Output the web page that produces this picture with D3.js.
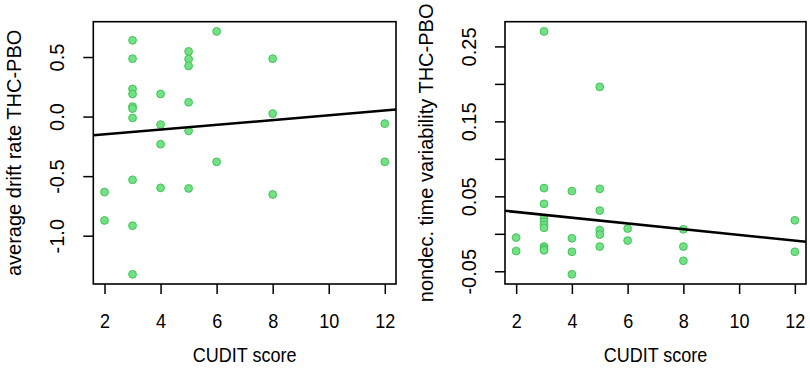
<!DOCTYPE html>
<html>
<head>
<meta charset="utf-8">
<script src="https://cdn.jsdelivr.net/npm/d3@7"></script>
<style>
  body { margin: 0; background: #fff; }
  svg { display: block; }
  text { font-family: "Liberation Sans", Arial, sans-serif; fill: #000; }
</style>
</head>
<body>
<script>
// CUDIT score per subject, sorted
var cudit = [2, 2,
  3, 3, 3, 3, 3, 3, 3, 3, 3, 3,
  4, 4, 4, 4,
  5, 5, 5, 5, 5, 5,
  6, 6,
  8, 8, 8,
  12, 12];

var driftRate = [-0.634, -0.872,
  0.640, 0.486, 0.232, 0.190, 0.084, 0.067, -0.011, -0.531, -0.916, -1.324,
  0.190, -0.067, -0.232, -0.598,
  0.547, 0.483, 0.425, 0.120, -0.120, -0.603,
  0.715, -0.380,
  0.486, 0.025, -0.654,
  -0.059, -0.380];

var nondecVar = [-0.005, -0.023,
  0.270, 0.061, 0.040, 0.020, 0.016, 0.012, 0.008, -0.017, -0.020, -0.022,
  0.057, -0.006, -0.024, -0.054,
  0.196, 0.060, 0.031, 0.005, -0.001, -0.017,
  0.007, -0.009,
  0.006, -0.017, -0.036,
  0.018, -0.024];

var xTicks = [2, 4, 6, 8, 10, 12];
var driftTicks = [-1.0, -0.5, 0.0, 0.5];
var nondecTicks = [-0.05, 0.00, 0.05, 0.10, 0.15, 0.20, 0.25];
var nondecLabelled = [-0.05, 0.05, 0.15, 0.25];

var xLabel = "CUDIT score";
var driftLabel = "average drift rate THC-PBO";
var nondecLabel = "nondec. time variability THC-PBO";

var W = 810, H = 379;
var plotTop = 21.7, plotBottom = 284;
var squeeze = "scale(0.9,1)"; // horizontal text in the source is narrow

var svg = d3.select("body").append("svg")
  .attr("width", W)
  .attr("height", H);

svg.append("rect").attr("width", W).attr("height", H).attr("fill", "#fff");

// R-style padded domain (4% each side)
function rExtent(vals) {
  var e = d3.extent(vals), pad = (e[1] - e[0]) * 0.04;
  return [e[0] - pad, e[1] + pad];
}

function fitLine(xs, ys) {
  var mx = d3.mean(xs), my = d3.mean(ys), sxy = 0, sxx = 0;
  for (var i = 0; i < xs.length; i++) {
    sxy += (xs[i] - mx) * (ys[i] - my);
    sxx += (xs[i] - mx) * (xs[i] - mx);
  }
  var b = sxy / sxx;
  return { a: my - b * mx, b: b };
}

function hyphen(f) {
  return function(d) { return f(d).replace("\u2212", "-"); };
}

function drawPanel(id, left, right, ys, yTicks, yFmt, yTitle) {
  var x = d3.scaleLinear().domain(rExtent(cudit)).range([left, right]);
  var y = d3.scaleLinear().domain(rExtent(ys)).range([plotBottom, plotTop]);

  var g = svg.append("g");

  g.append("clipPath").attr("id", id)
    .append("rect")
    .attr("x", left).attr("y", plotTop)
    .attr("width", right - left).attr("height", plotBottom - plotTop);

  // x axis
  var xa = g.append("g")
    .attr("transform", "translate(0," + plotBottom + ")")
    .call(d3.axisBottom(x).tickValues(xTicks).tickSize(10).tickSizeOuter(0));
  xa.select(".domain").remove();
  xa.selectAll(".tick line").attr("stroke", "#000").attr("stroke-width", 1.5);
  xa.selectAll(".tick text")
    .attr("y", 0).attr("dy", 0)
    .attr("transform", "translate(0,44) " + squeeze)
    .style("font-size", "20px");

  // y axis, labels parallel to axis
  var ya = g.append("g")
    .attr("transform", "translate(" + left + ",0)")
    .call(d3.axisLeft(y).tickValues(yTicks).tickFormat(yFmt).tickSize(10).tickSizeOuter(0));
  ya.select(".domain").remove();
  ya.selectAll(".tick line").attr("stroke", "#000").attr("stroke-width", 1.5);
  ya.selectAll(".tick text")
    .attr("transform", "rotate(-90)")
    .attr("x", 0).attr("y", -29).attr("dy", 0)
    .attr("text-anchor", "middle")
    .style("font-size", "20px");

  // box
  g.append("rect")
    .attr("x", left).attr("y", plotTop)
    .attr("width", right - left).attr("height", plotBottom - plotTop)
    .attr("fill", "none")
    .attr("stroke", "#000")
    .attr("stroke-width", 1.6);

  // points
  g.selectAll("circle.pt")
    .data(cudit.map(function(c, i) { return [c, ys[i]]; }))
    .enter().append("circle")
    .attr("class", "pt")
    .attr("cx", function(d) { return x(d[0]); })
    .attr("cy", function(d) { return y(d[1]); })
    .attr("r", 3.9)
    .attr("fill", "#72e084")
    .attr("stroke", "#45c25a")
    .attr("stroke-width", 1);

  // regression line
  var fit = fitLine(cudit, ys);
  var xd = x.domain();
  g.append("line")
    .attr("clip-path", "url(#" + id + ")")
    .attr("x1", x(xd[0])).attr("y1", y(fit.a + fit.b * xd[0]))
    .attr("x2", x(xd[1])).attr("y2", y(fit.a + fit.b * xd[1]))
    .attr("stroke", "#000")
    .attr("stroke-width", 2.5);

  // titles
  g.append("text")
    .attr("transform", "translate(" + ((left + right) / 2) + ",362) " + squeeze)
    .attr("text-anchor", "middle")
    .style("font-size", "20px")
    .text(xLabel);

  g.append("text")
    .attr("transform", "translate(" + (left - 72) + "," + ((plotTop + plotBottom) / 2) + ") rotate(-90)")
    .attr("text-anchor", "middle")
    .style("font-size", "20px")
    .text(yTitle);
}

drawPanel("clipL", 93.3, 396, driftRate, driftTicks, hyphen(d3.format(".1f")), driftLabel);
drawPanel("clipR", 505, 806, nondecVar, nondecTicks, function(d) {
  var show = nondecLabelled.some(function(v) { return Math.abs(v - d) < 1e-9; });
  return show ? hyphen(d3.format(".2f"))(d) : "";
}, nondecLabel);
</script>
</body>
</html>
